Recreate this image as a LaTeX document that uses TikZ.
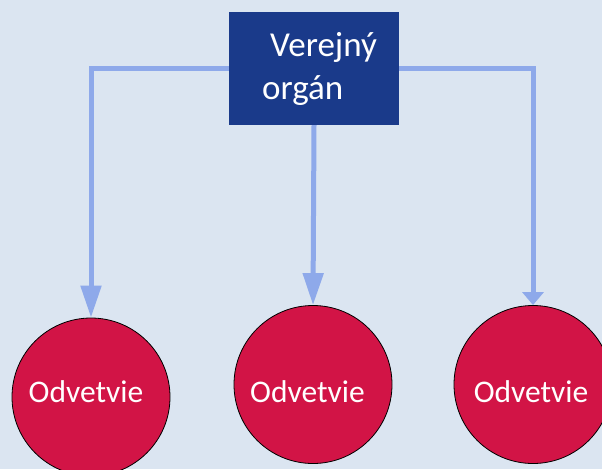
\documentclass[tikz,border=0pt]{standalone}
\usepackage{fontspec}
\setmainfont{Carlito}
\usetikzlibrary{arrows.meta}
\definecolor{backblue}{HTML}{DBE5F1}
\definecolor{organblue}{HTML}{1A3A8A}
\definecolor{linkblue}{HTML}{8EA9EA}
\definecolor{branchred}{HTML}{D21446}
\begin{document}
\begin{tikzpicture}[x=1pt, y=-1pt,
  every node/.style={text=white, inner sep=0pt},
  organbox/.style={rectangle, fill=organblue, minimum width=170pt,
    minimum height=113pt},
  organlabel/.style={font=\fontsize{35}{43}\selectfont, align=left},
  branch/.style={circle, fill=branchred, draw=black, line width=0.8pt,
    minimum size=158pt},
  branchlabel/.style={font=\fontsize{31.5}{38}\selectfont, anchor=base},
  link/.style={draw=linkblue, line width=5pt}]
\useasboundingbox (0,0) rectangle (602,469);
\fill[backblue] (0,0) rectangle (602,469);
\node[organbox] (organ) at (314,68.5) {};
\node[organlabel, anchor=west] (organtext) at (262,69)
  {\hspace*{8pt}Verejný\\orgán};
\node[branch] (left) at (91,397) {};
\node[branch] (mid) at (313,384.5) {};
\node[branch] (right) at (533,384.5) {};
\node[branchlabel] (lefttext) at (86,402) {Odvetvie};
\node[branchlabel] (midtext) at (307.5,402) {Odvetvie};
\node[branchlabel] (righttext) at (531,402) {Odvetvie};
\draw[link, -{Triangle[length=32pt, width=20pt]}]
  (organ.west) -| (left.north);
\draw[link, -{Triangle[length=32pt, width=20pt]}]
  (organ.south) -- (mid.north);
\draw[link, -{Triangle[length=13pt, width=21pt]}]
  (organ.east) -| (right.north);
\end{tikzpicture}
\end{document}
